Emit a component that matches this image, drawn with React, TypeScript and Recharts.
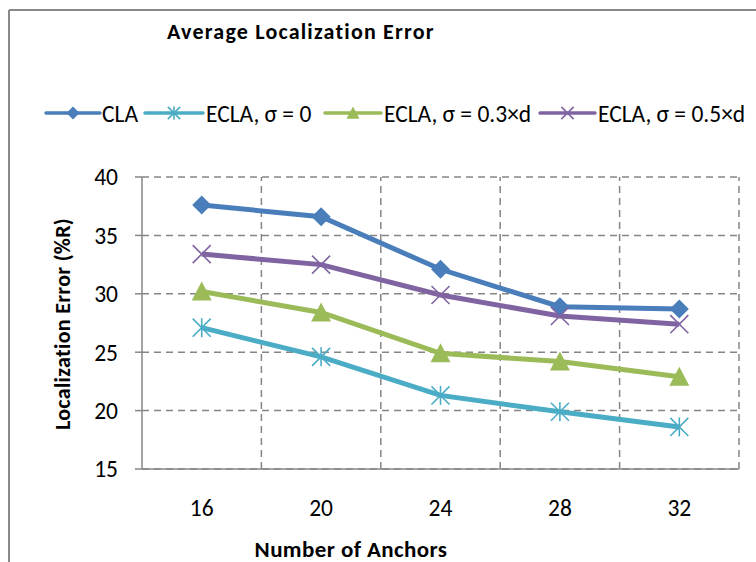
import React from 'react';
import {
  LineChart,
  Line,
  XAxis,
  YAxis,
  CartesianGrid,
  ReferenceLine,
  Legend,
} from 'recharts';

const anchors = [16, 20, 24, 28, 32];
const cla = [37.6, 36.6, 32.1, 28.9, 28.7];
const eclaSigma0 = [27.1, 24.6, 21.3, 19.9, 18.6];
const eclaSigma03 = [30.2, 28.4, 24.9, 24.2, 22.9];
const eclaSigma05 = [33.4, 32.5, 29.9, 28.1, 27.4];
const yTicks = [15, 20, 25, 30, 35, 40];
// category boundaries (Excel draws the grid between categories)
const gridX = [18, 22, 26, 30, 34];

const seriesNames = ['CLA', 'ECLA, σ = 0', 'ECLA, σ = 0.3×d', 'ECLA, σ = 0.5×d'];
const seriesKeys = ['cla', 'ecla0', 'ecla03', 'ecla05'];
const seriesColors = ['#4a7ebb', '#4bacc6', '#9bbb59', '#8064a2'];
const seriesMarkers = ['diamond', 'star', 'triangle', 'x'];

const data = anchors.map((a, i) => ({
  anchors: a,
  cla: cla[i],
  ecla0: eclaSigma0[i],
  ecla03: eclaSigma03[i],
  ecla05: eclaSigma05[i],
}));

const FONT = "Carlito, 'Liberation Sans Narrow', 'DejaVu Sans Condensed', sans-serif";
const GRID = '#868686';

function Marker({ kind, cx, cy, r, color }: { kind: string; cx: number; cy: number; r: number; color: string }) {
  if (kind === 'diamond') {
    return <path d={`M${cx} ${cy - r}L${cx + r} ${cy}L${cx} ${cy + r}L${cx - r} ${cy}Z`} fill={color} />;
  }
  if (kind === 'triangle') {
    return <path d={`M${cx} ${cy - r}L${cx + r} ${cy + r * 0.9}L${cx - r} ${cy + r * 0.9}Z`} fill={color} />;
  }
  const d = r * 0.95;
  return (
    <g stroke={color} strokeWidth={1.6}>
      <line x1={cx - d} y1={cy - d} x2={cx + d} y2={cy + d} />
      <line x1={cx - d} y1={cy + d} x2={cx + d} y2={cy - d} />
      {kind === 'star' && <line x1={cx} y1={cy - r} x2={cx} y2={cy + r} />}
    </g>
  );
}

const legendLines = [
  [46, 100, 102],
  [145, 203, 206],
  [325, 381, 384],
  [540, 595, 598],
];

const renderLegend = () => (
  <svg width={756} height={140}>
    {seriesNames.map((name, i) => {
      const [x1, x2, tx] = legendLines[i];
      return (
        <g key={name}>
          <line x1={x1} x2={x2} y1={113} y2={113} stroke={seriesColors[i]} strokeWidth={3.5} strokeLinecap="round" />
          <Marker kind={seriesMarkers[i]} cx={(x1 + x2) / 2} cy={113} r={6.5} color={seriesColors[i]} />
          <text x={tx} y={121.5} fontSize={23.5} fontFamily={FONT} fill="#000">
            {name}
          </text>
        </g>
      );
    })}
  </svg>
);

const labelStyle = { fontVariantLigatures: 'none' as const };

export default function App() {
  return (
    <div
      style={{
        position: 'absolute',
        left: 0,
        top: 0,
        width: 756,
        height: 562,
        background: '#fff',
        fontFamily: FONT,
        overflow: 'hidden',
      }}
    >
      <LineChart
        width={756}
        height={562}
        data={data}
        margin={{ top: 177, right: 17, left: 0, bottom: 0 }}
      >
        <CartesianGrid vertical={false} stroke={GRID} strokeWidth={1.5} strokeDasharray="7 5" />
        {gridX.map((x) => (
          <ReferenceLine key={x} x={x} stroke={GRID} strokeWidth={1.5} strokeDasharray="7 5" />
        ))}
        <XAxis
          dataKey="anchors"
          type="number"
          domain={[14, 34]}
          ticks={anchors}
          height={93}
          tickLine={false}
          tickSize={0}
          tickMargin={30}
          axisLine={{ stroke: GRID, strokeWidth: 1.5 }}
          tick={{ fill: '#000', fontSize: 23.5, fontFamily: FONT }}
          allowDataOverflow
        />
        <YAxis
          domain={[15, 40]}
          ticks={yTicks}
          width={142}
          tickSize={7}
          tickMargin={17}
          axisLine={{ stroke: GRID, strokeWidth: 1.5 }}
          tickLine={{ stroke: GRID, strokeWidth: 1.5 }}
          tick={{ fill: '#000', fontSize: 23.5, fontFamily: FONT }}
          allowDataOverflow
        />
        <Legend
          layout="horizontal"
          verticalAlign="middle"
          align="center"
          content={renderLegend}
          wrapperStyle={{ position: 'absolute', top: 0, left: 0, width: 756, height: 140 }}
        />
        {seriesKeys.map((key, i) => (
          <Line
            key={key}
            dataKey={key}
            name={seriesNames[i]}
            type="linear"
            stroke={seriesColors[i]}
            strokeWidth={5}
            isAnimationActive={false}
            activeDot={false}
            dot={(p: any) => (
              <Marker
                key={`${key}-${p.index}`}
                kind={seriesMarkers[i]}
                cx={p.cx}
                cy={p.cy}
                r={seriesMarkers[i] === 'triangle' ? 10 : 9.5}
                color={seriesColors[i]}
              />
            )}
          />
        ))}
      </LineChart>
      <svg
        width={756}
        height={562}
        style={{ position: 'absolute', left: 0, top: 0, pointerEvents: 'none' }}
      >
        <line x1={9} y1={10} x2={756} y2={10} stroke="#898989" strokeWidth={2} />
        <line x1={9} y1={10} x2={9} y2={562} stroke="#898989" strokeWidth={2} />
        <text
          x={301}
          y={39}
          textAnchor="middle"
          fontSize={22}
          fontWeight="bold"
          letterSpacing={1.2}
          fontFamily={FONT}
          style={labelStyle}
        >
          Average Localization Error
        </text>
        <text
          x={351}
          y={556.5}
          textAnchor="middle"
          fontSize={23}
          fontWeight="bold"
          letterSpacing={0.4}
          fontFamily={FONT}
          style={labelStyle}
        >
          Number of Anchors
        </text>
        <text
          transform="translate(69.5 324) rotate(-90)"
          textAnchor="middle"
          fontSize={22}
          fontWeight="bold"
          letterSpacing={0.3}
          fontFamily={FONT}
          style={labelStyle}
        >
          Localization Error (%R)
        </text>
      </svg>
    </div>
  );
}
